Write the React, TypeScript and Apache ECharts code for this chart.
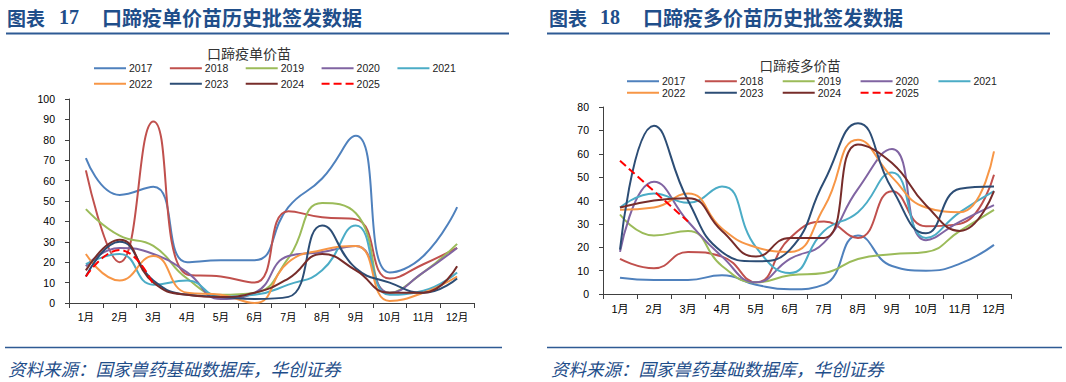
import React, { useEffect, useRef } from "react";
import * as echarts from "echarts";

const months = ["1月", "2月", "3月", "4月", "5月", "6月", "7月", "8月", "9月", "10月", "11月", "12月"];
const years = ["2017", "2018", "2019", "2020", "2021", "2022", "2023", "2024", "2025"];
const yearColors = ["#4F81BD", "#C0504D", "#9BBB59", "#8064A2", "#4BACC6", "#F79646", "#2C4D75", "#772C2A", "#FF0000"];

// 口蹄疫单价苗
const single2017 = [71, 53, 57, 20, 21, 21, 47, 61, 82, 15, 23, 47];
const single2018 = [65, 20, 89, 14, 13, 10, 45, 42, 41, 12, 19, 27];
const single2019 = [46, 33, 28, 12, 4, 5, 22, 49, 44, 5, 15, 29];
const single2020 = [18, 27, 24, 15, 2, 5, 23, 25, 28, 5, 15, 27];
const single2021 = [19, 24, 9, 11, 3, 4, 9, 16, 38, 4, 6, 15];
const single2022 = [24, 11, 23, 5, 4, 0, 20, 26, 28, 1, 5, 13];
const single2023 = [13, 30, 11, 4, 3, 2, 3, 38, 17, 10, 5, 12];
const single2024 = [16, 31, 10, 4, 3, 5, 12, 24, 16, 5, 5, 18];
const single2025 = [13, 26, 9];

// 口蹄疫多价苗
const multi2017 = [7, 6, 6, 8, 4, 2, 4, 25, 12, 10, 13, 21];
const multi2018 = [15, 11, 18, 16, 5, 24, 31, 24, 44, 29, 30, 51];
const multi2019 = [34, 25, 27, 12, 5, 8, 9, 15, 17, 18, 27, 36];
const multi2020 = [18, 48, 31, 16, 5, 15, 22, 45, 62, 23, 31, 38];
const multi2021 = [37, 43, 39, 46, 20, 9, 27, 35, 52, 24, 35, 44];
const multi2022 = [36, 37, 43, 28, 20, 18, 37, 66, 50, 37, 35, 61];
const multi2023 = [19, 72, 40, 18, 14, 19, 48, 73, 45, 26, 45, 46];
const multi2024 = [37, 40, 41, 27, 16, 24, 24, 64, 56, 38, 27, 44];
const multi2025 = [57, 44, 31];

const singleData = [single2017, single2018, single2019, single2020, single2021, single2022, single2023, single2024, single2025];
const multiData = [multi2017, multi2018, multi2019, multi2020, multi2021, multi2022, multi2023, multi2024, multi2025];

const singleTicks = { min: 0, max: 100, interval: 10 };
const multiTicks = { min: 0, max: 80, interval: 10 };

const titleBlue = "#1F4E8A";
const ruleBlue = "#2E5A94";
const sansFont = "'Liberation Sans', Arial, 'Noto Sans CJK SC', sans-serif";
const cjkFont = "'Noto Sans CJK SC', sans-serif";

function makeSeries(data: number[][], idx: number) {
  return years.map((y, i) => ({
    name: y,
    type: "line",
    xAxisIndex: idx,
    yAxisIndex: idx,
    data: data[i],
    smooth: 0.5,
    symbol: "none",
    showSymbol: false,
    lineStyle: { color: yearColors[i], width: 2, type: i === 8 ? "dashed" : "solid" },
    itemStyle: { color: yearColors[i] },
    z: i === 8 ? 5 : 2,
  }));
}

function makeLegend(names: string[], left: number, top: number, gap: number) {
  return {
    data: names,
    left,
    top,
    orient: "horizontal",
    padding: 0,
    itemGap: gap,
    itemWidth: 32,
    itemHeight: 10,
    selectedMode: false,
    itemStyle: { opacity: 0 },
    textStyle: { fontSize: 10.5, color: "#222", fontFamily: sansFont, padding: [0, 0, 0, -2] },
  };
}

function header(x0: number, num: string, rest: string, numX: number, restX: number, lineX1: number, lineX2: number, srcX: number, lineY2a: number, lineY2b: number) {
  return [
    { type: "text", x: x0, y: 17, style: { text: "图表", fontSize: 19, fontWeight: "bold", fontFamily: cjkFont, fill: titleBlue, align: "left", verticalAlign: "middle" } },
    { type: "text", x: numX, y: 17, style: { text: num, fontSize: 20, fontWeight: "bold", fontFamily: "'Liberation Serif', serif", fill: titleBlue, align: "left", verticalAlign: "middle" } },
    { type: "text", x: restX, y: 17, style: { text: rest, fontSize: 20, fontWeight: "bold", fontFamily: cjkFont, fill: titleBlue, align: "left", verticalAlign: "middle" } },
    { type: "line", shape: { x1: lineX1, y1: 33.5, x2: lineX2, y2: 33.5 }, style: { stroke: ruleBlue, lineWidth: 2.2 } },
    { type: "line", shape: { x1: lineY2a, y1: 347.5, x2: lineY2b, y2: 347.5 }, style: { stroke: ruleBlue, lineWidth: 1.6 } },
    { type: "text", x: srcX, y: 368, style: { text: "资料来源：国家兽药基础数据库，华创证券", fontSize: 17.5, fontStyle: "italic", fontFamily: cjkFont, fill: titleBlue, align: "left", verticalAlign: "middle" } },
  ];
}

function axisPair(gridIndex: number, ticks: { min: number; max: number; interval: number }) {
  const axisColor = "#404040";
  return {
    x: {
      type: "category",
      gridIndex,
      data: months,
      boundaryGap: true,
      axisLine: { lineStyle: { color: axisColor, width: 1 } },
      axisTick: { show: true, length: 5, lineStyle: { color: axisColor } },
      axisLabel: { fontSize: gridIndex === 0 ? 10.5 : 11, color: "#000", margin: 9, fontFamily: sansFont, interval: 0 },
      splitLine: { show: false },
    },
    y: {
      type: "value",
      gridIndex,
      min: ticks.min,
      max: ticks.max,
      interval: ticks.interval,
      axisLine: { show: true, lineStyle: { color: axisColor, width: 1 } },
      axisTick: { show: true, length: 4, lineStyle: { color: axisColor } },
      axisLabel: { fontSize: 10.5, color: "#000", margin: 14, fontFamily: sansFont },
      splitLine: { show: false },
    },
  };
}

export default function App() {
  const ref = useRef<HTMLDivElement>(null);
  useEffect(() => {
    if (!ref.current) return;
    const chart = echarts.init(ref.current, undefined, { renderer: "svg" });
    const a0 = axisPair(0, singleTicks);
    const a1 = axisPair(1, multiTicks);
    chart.setOption({
      animation: false,
      backgroundColor: "#fff",
      grid: [
        { left: 69, top: 99, width: 405, height: 204, containLabel: false },
        { left: 603, top: 107, width: 408, height: 187, containLabel: false },
      ],
      xAxis: [a0.x, a1.x],
      yAxis: [a0.y, a1.y],
      legend: [
        makeLegend(years.slice(0, 5), 93, 63, 16.5),
        makeLegend(years.slice(5), 93, 78.5, 16.5),
        makeLegend(years.slice(0, 5), 626, 76, 18.5),
        makeLegend(years.slice(5), 626, 87.5, 18.5),
      ],
      graphic: [
        ...header(7, "17", "口蹄疫单价苗历史批签发数据", 59, 102, 6, 509, 8, 5, 502),
        ...header(549, "18", "口蹄疫多价苗历史批签发数据", 600, 643, 547, 1050, 551, 547, 1062),
        { type: "text", x: 249, y: 53, style: { text: "口蹄疫单价苗", fontSize: 14, fontFamily: cjkFont, fill: "#333", align: "center", verticalAlign: "middle" } },
        { type: "text", x: 800, y: 65, style: { text: "口蹄疫多价苗", fontSize: 13.5, fontFamily: cjkFont, fill: "#333", align: "center", verticalAlign: "middle" } },
      ],
      series: [...makeSeries(singleData, 0), ...makeSeries(multiData, 1)],
    });
    return () => chart.dispose();
  }, []);
  return <div ref={ref} style={{ position: "fixed", left: 0, top: 0, width: 1066, height: 382, background: "#fff" }} />;
}
